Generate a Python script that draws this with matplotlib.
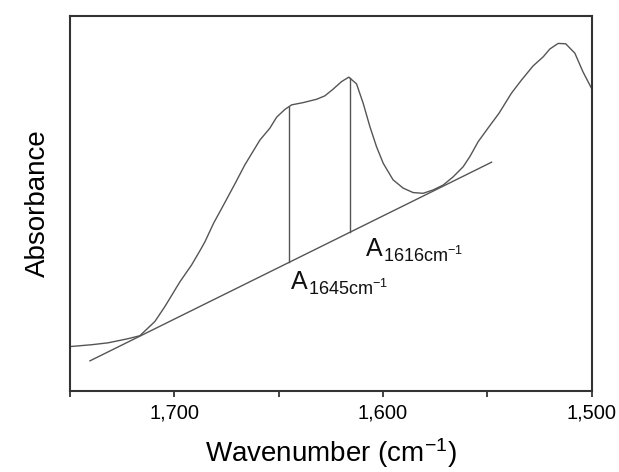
import numpy as np
import matplotlib
matplotlib.use("Agg")
import matplotlib.pyplot as plt
from matplotlib.ticker import MultipleLocator, FuncFormatter
from matplotlib.transforms import offset_copy

plt.rcParams["font.family"] = ["Liberation Sans", "DejaVu Sans"]
plt.rcParams["mathtext.fontset"] = "custom"
plt.rcParams["mathtext.rm"] = "Liberation Sans"
plt.rcParams["mathtext.it"] = "Liberation Sans"

# =========================================================
# Spectrum (amide I region)
# =========================================================
wavenumber = [1750.0, 1739.6, 1731.8, 1722.2, 1716.5, 1709.3, 1704.5, 1697.3,
              1691.7, 1687.5, 1685.3, 1681.2, 1676.4, 1670.8, 1666.2, 1659.0,
              1654.2, 1651.0, 1647.0, 1643.8, 1638.3, 1631.8, 1627.9, 1623.9,
              1619.9, 1616.4, 1612.7, 1609.5, 1606.3, 1603.1, 1599.9, 1595.2,
              1590.4, 1585.6, 1580.8, 1576.0, 1571.2, 1566.4, 1561.6, 1558.4,
              1554.4, 1549.7, 1544.4, 1538.5, 1533.7, 1528.1, 1523.3, 1520.1,
              1516.1, 1512.5, 1508.1, 1504.2, 1500.1]
absorbance = [0.118, 0.123, 0.128, 0.139, 0.147, 0.185, 0.225, 0.291,
              0.336, 0.376, 0.398, 0.447, 0.496, 0.554, 0.603, 0.669,
              0.701, 0.730, 0.751, 0.763, 0.769, 0.778, 0.787, 0.805,
              0.825, 0.837, 0.819, 0.767, 0.705, 0.651, 0.607, 0.563,
              0.541, 0.529, 0.527, 0.536, 0.549, 0.571, 0.598, 0.625,
              0.665, 0.701, 0.741, 0.794, 0.829, 0.867, 0.891, 0.912,
              0.927, 0.926, 0.901, 0.851, 0.807]

# straight baseline drawn under the band
baseline_x = [1740.4, 1548.0]
baseline_y = [0.080, 0.610]

# band positions where the heights are measured
peaks = [1645, 1616]
peak_subs = ["1645cm$^{-1}$", "1616cm$^{-1}$"]
label_pos = [(1644, 0.272), (1608, 0.360)]

wn = np.array(wavenumber)
ab = np.array(absorbance)

fig = plt.figure(figsize=(6.19, 4.72), dpi=100)
ax = fig.add_axes([0.113, 0.172, 0.843, 0.794])

line_color = "#555555"
ax.plot(wn, ab, color=line_color, lw=1.0)
ax.plot(baseline_x, baseline_y, color=line_color, lw=1.0)

# vertical height lines from baseline up to the spectrum
for p in peaks:
    top = np.interp(p, wn[::-1], ab[::-1])
    bot = np.interp(p, baseline_x[::-1], baseline_y[::-1])
    ax.plot([p, p], [bot, top], color=line_color, lw=1.0)

# "A" with a large subscript, drawn as two pieces
for sub, (x, y) in zip(peak_subs, label_pos):
    ax.text(x, y, "A", fontsize=18, color="#111111", ha="left", va="baseline")
    tr = offset_copy(ax.transData, fig=fig, x=12.2, y=-4.5, units="points")
    ax.text(x, y, sub, fontsize=13, color="#111111", ha="left",
            va="baseline", transform=tr)

ax.set_xlim(1750, 1500)
ax.set_ylim(0, 1.0)

ax.xaxis.set_major_locator(MultipleLocator(100))
ax.xaxis.set_minor_locator(MultipleLocator(50))
ax.xaxis.set_major_formatter(FuncFormatter(lambda v, pos: f"{int(v):,}"))
ax.tick_params(axis="x", which="both", direction="out", length=4, width=1.2,
               color="#222222", labelsize=14.5, pad=5)
ax.set_yticks([])

for s in ax.spines.values():
    s.set_linewidth(1.5)
    s.set_color("#333333")

ax.set_xlabel(r"Wavenumber (cm$^{-1}$)", fontsize=20, labelpad=10)
ax.set_ylabel("Absorbance", fontsize=20, labelpad=14)

fig.savefig("out.png", dpi=100)
